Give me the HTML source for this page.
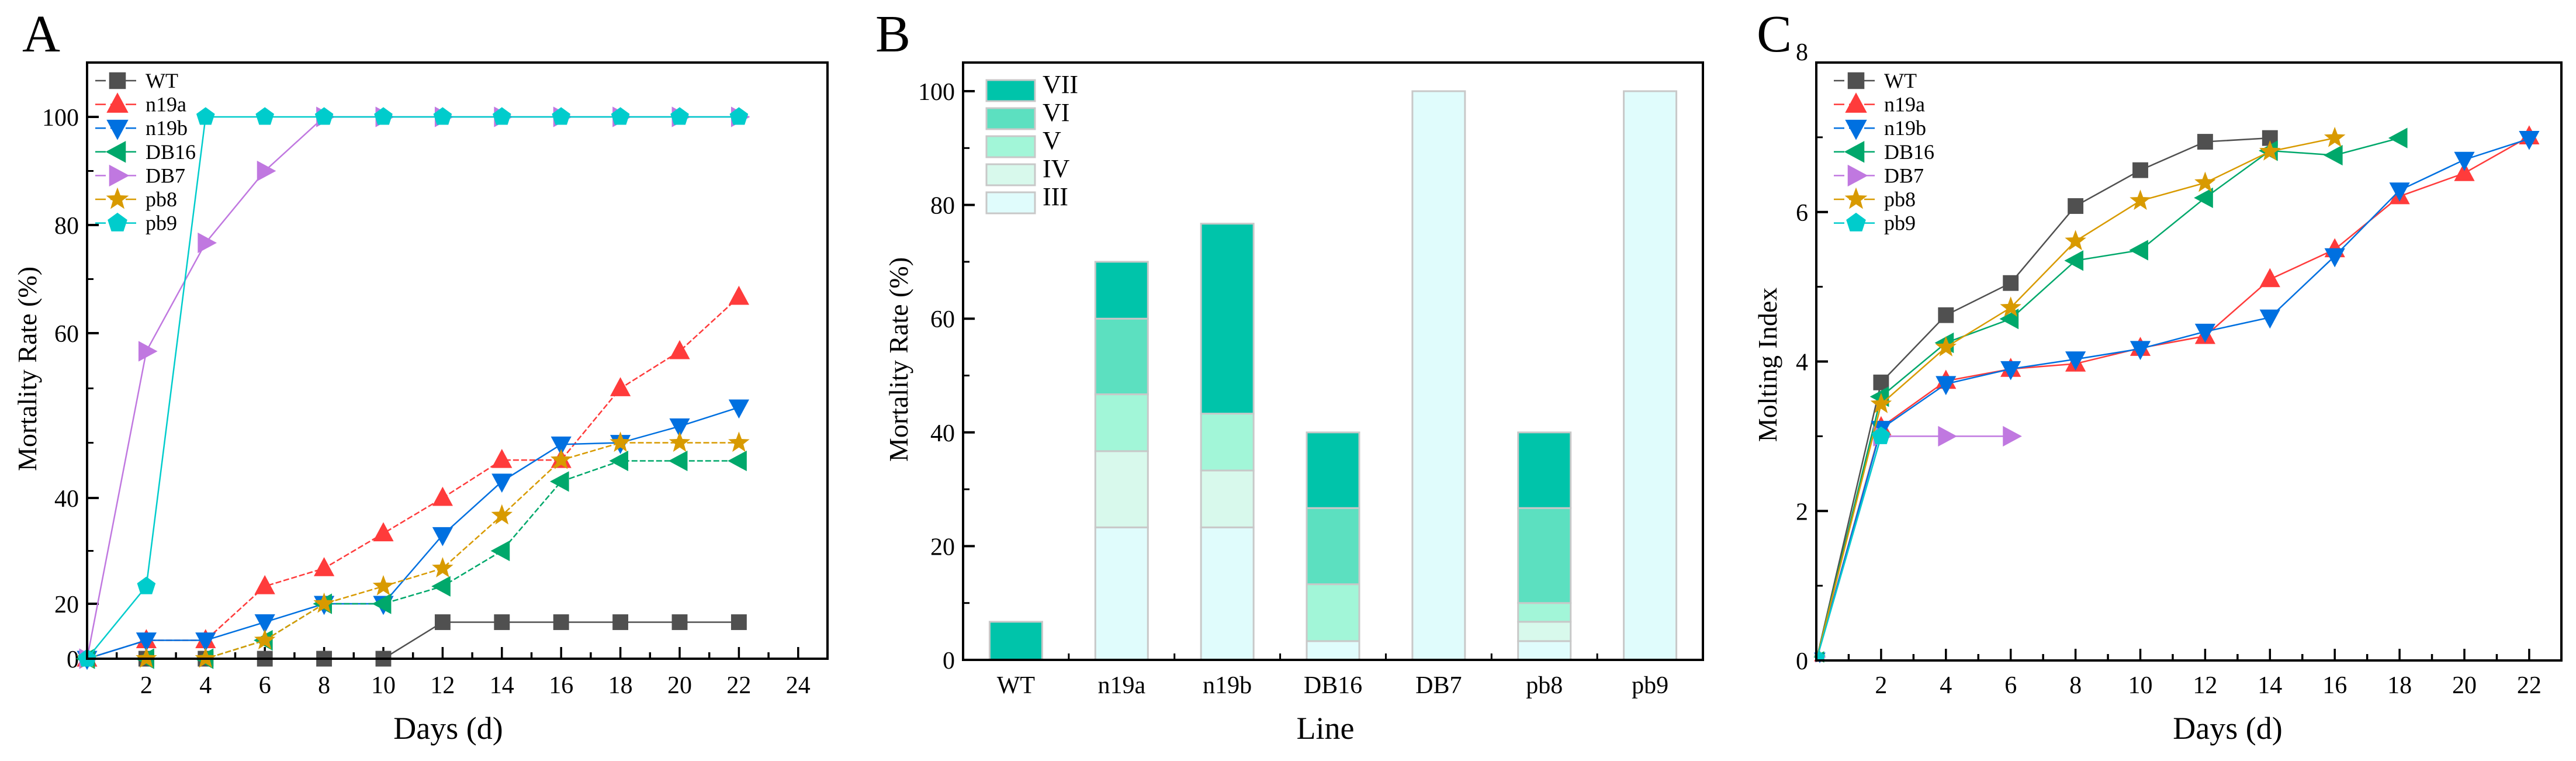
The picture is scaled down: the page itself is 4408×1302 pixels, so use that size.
<!DOCTYPE html>
<html><head><meta charset="utf-8"><style>
html,body{margin:0;padding:0;background:#fff;}
svg{display:block;font-family:"Liberation Serif",serif;}
</style></head><body>
<svg id="fig" xmlns="http://www.w3.org/2000/svg" width="4408" height="1302" viewBox="0 0 4408 1302">
<rect width="4408" height="1302" fill="#fff"/>
<text x="38" y="88" font-size="90">A</text>
<text x="1498" y="88" font-size="90">B</text>
<text x="3006" y="88" font-size="90">C</text>
<g id="pa"></g>
<g id="pb"></g>
<g id="pc"></g>
</svg>
<script>
// ---------- data ----------
const seriesNames = ["WT","n19a","n19b","DB16","DB7","pb8","pb9"];
const seriesColors = ["#505050","#ff3b3b","#0070e0","#00a86b","#c078e0","#d89a00","#00cccc"];
const daysA = [0,2,4,6,8,10,12,14,16,18,20,22];
const mortWT   = [0,0,0,0,0,0,13.3,13.3,13.3,13.3,13.3,13.3];
const mortN19a = [0,6.7,6.7,23.3,26.7,33.3,40,44.6,44.6,53.3,57.8,66.7];
const mortN19b = [0,6.7,6.7,13.3,20,20,33,42,46.5,46.7,48.7,51];
const mortDB16 = [0,0,0,6.7,20,20,23.3,30,42,44.5,44.5,44.5];
const mortDB7  = [0,57.8,76.7,90,100,100,100,100,100,100,100,100];
const mortPb8  = [0,0,0,6.7,20,23.3,26.7,36.7,44.6,46.7,46.7,46.7];
const mortPb9  = [0,23.3,100,100,100,100,100,100,100,100,100,100];
const yTicksA = [0,20,40,60,80,100];
const yMinorA = [30,46.7,53.3,70,90];
const xTicksA = [2,4,6,8,10,12,14,16,18,20,22,24];

const lines = ["WT","n19a","n19b","DB16","DB7","pb8","pb9"];
const stages = ["VII","VI","V","IV","III"];
const stageColors = {"VII":"#00c4aa","VI":"#5ce0c0","V":"#a2f6d8","IV":"#d8f9ec","III":"#e0fcfc"};
const stIII = [0,23.3,23.3,3.3,100,3.3,100];
const stIV  = [0,13.4,10,0,0,3.4,0];
const stV   = [0,10,10,10,0,3.3,0];
const stVI  = [0,13.3,0,13.4,0,16.7,0];
const stVII = [6.7,10,33.4,13.3,0,13.3,0];
const yTicksB = [0,20,40,60,80,100];

const daysC = [0,2,4,6,8,10,12,14,16,18,20,22];
const moltWT   = [0,3.72,4.62,5.05,6.08,6.56,6.94,6.99];
const moltN19a = [0,3.12,3.74,3.9,3.97,4.18,4.34,5.1,5.5,6.21,6.52,7.01];
const moltN19b = [0,3.1,3.7,3.9,4.03,4.17,4.4,4.59,5.41,6.29,6.7,6.98];
const moltDB16 = [0,3.53,4.25,4.57,5.35,5.49,6.19,6.82,6.76,6.99];
const moltDB7  = [0,3.0,3.0,3.0];
const moltPb8  = [0,3.43,4.19,4.72,5.61,6.15,6.39,6.81,6.99];
const moltPb9  = [0,3.0];
const yTicksC = [0,2,4,6,8];
const xTicksC = [2,4,6,8,10,12,14,16,18,20,22];

// ---------- helpers ----------
const NS="http://www.w3.org/2000/svg";
function mk(parent,tag,attrs,text){const e=document.createElementNS(NS,tag);for(const k in attrs)e.setAttribute(k,attrs[k]);if(text!==undefined)e.textContent=text;parent.appendChild(e);return e;}
function marker(g,shape,cx,cy,s,color){
  let e;
  if(shape===0){e=mk(g,"rect",{x:cx-s*0.42,y:cy-s*0.42,width:s*0.84,height:s*0.84,fill:color});}
  else if(shape===1){e=mk(g,"polygon",{points:`${cx},${cy-s*0.6} ${cx-s*0.55},${cy+s*0.42} ${cx+s*0.55},${cy+s*0.42}`,fill:color});}
  else if(shape===2){e=mk(g,"polygon",{points:`${cx},${cy+s*0.6} ${cx-s*0.55},${cy-s*0.42} ${cx+s*0.55},${cy-s*0.42}`,fill:color});}
  else if(shape===3){e=mk(g,"polygon",{points:`${cx-s*0.6},${cy} ${cx+s*0.42},${cy-s*0.55} ${cx+s*0.42},${cy+s*0.55}`,fill:color});}
  else if(shape===4){e=mk(g,"polygon",{points:`${cx+s*0.6},${cy} ${cx-s*0.42},${cy-s*0.55} ${cx-s*0.42},${cy+s*0.55}`,fill:color});}
  else if(shape===5){let p=[];for(let i=0;i<10;i++){const r=i%2?s*0.25:s*0.6;const a=-Math.PI/2+i*Math.PI/5;p.push((cx+r*Math.cos(a))+","+(cy+r*Math.sin(a)));}e=mk(g,"polygon",{points:p.join(" "),fill:color});}
  else {let p=[];for(let i=0;i<5;i++){const a=-Math.PI/2+i*2*Math.PI/5;p.push((cx+s*0.52*Math.cos(a))+","+(cy+s*0.52*Math.sin(a)));}e=mk(g,"polygon",{points:p.join(" "),fill:color});}
  return e;
}
function frame(g,L,T,R,B){mk(g,"rect",{x:L,y:T,width:R-L,height:B-T,fill:"none",stroke:"#000","stroke-width":4});}
function legendLines(g,x0,y0,step){
  seriesNames.forEach((n,i)=>{
    const y=y0+i*step;
    const le=mk(g,"g",{});
    
    
    mk(le,"line",{x1:x0,y1:y,x2:x0+76,y2:y,stroke:seriesColors[i],"stroke-width":2.5,"stroke-dasharray":"18 8"});
    marker(le,i,x0+38,y,34,seriesColors[i]);
    mk(le,"text",{x:x0+86,y:y+12,"font-size":36},n);
  });
}

// ---------- Panel A ----------
(function(){
  const g=document.getElementById("pa");
  const L=149,R=1416,T=107,B=1127;
  const knotsV=[0,20,40,60,80,100], knotsY=[1127,1033,852,570,385,200];
  function y(v){for(let i=0;i<knotsV.length-1;i++){if(v<=knotsV[i+1]||i===knotsV.length-2){return knotsY[i]+(v-knotsV[i])/(knotsV[i+1]-knotsV[i])*(knotsY[i+1]-knotsY[i]);}}}
  function x(d){return L+d*50.7;}
  yTicksA.forEach(v=>{mk(g,"line",{x1:L,y1:y(v),x2:L+20,y2:y(v),stroke:"#000","stroke-width":4});
    const t=mk(g,"text",{x:L-14,y:y(v)+15,"font-size":42,"text-anchor":"end"},String(v));
    });
  yMinorA.forEach(v=>mk(g,"line",{x1:L,y1:y(v),x2:L+11,y2:y(v),stroke:"#000","stroke-width":3}));
  for(let d=1;d<=24;d++){const maj=d%2===0;mk(g,"line",{x1:x(d),y1:B,x2:x(d),y2:B-(maj?20:11),stroke:"#000","stroke-width":3.5});}
  xTicksA.forEach(d=>{const t=mk(g,"text",{x:x(d),y:1186,"font-size":42,"text-anchor":"middle"},String(d));
    });
  const all=[mortWT,mortN19a,mortN19b,mortDB16,mortDB7,mortPb8,mortPb9];
  all.forEach((arr,i)=>{
    const sg=mk(g,"g",{});
    
    
    const pts=arr.map((v,k)=>x(daysA[k])+","+y(v)).join(" ");
    mk(sg,"polyline",{points:pts,fill:"none",stroke:seriesColors[i],"stroke-width":2.5,"stroke-dasharray":i%2?"10 4":"none"});
    arr.forEach((v,k)=>{const m=marker(sg,i,x(daysA[k]),y(v),32,seriesColors[i]);
      });
  });
  frame(g,L,T,R,B);
  legendLines(g,163,138,40.6);
  const yt=mk(g,"text",{x:0,y:0,"font-size":46,"text-anchor":"middle",transform:"translate(62,631) rotate(-90)"},"Mortality Rate (%)");
  
  const xt=mk(g,"text",{x:767,y:1264,"font-size":54,"text-anchor":"middle"},"Days (d)");
  
})();

// ---------- Panel B ----------
(function(){
  const g=document.getElementById("pb");
  const L=1648,R=2914,T=107,B=1129;
  const k=(B-156)/100;
  function y(v){return B-v*k;}
  const step=(R-L)/7;
  function xc(i){return L+step*(i+0.5);}
  yTicksB.forEach(v=>{mk(g,"line",{x1:L,y1:y(v),x2:L+20,y2:y(v),stroke:"#000","stroke-width":4});
    const t=mk(g,"text",{x:L-14,y:y(v)+15,"font-size":42,"text-anchor":"end"},String(v));
    });
  [10,30,50,70,90].forEach(v=>mk(g,"line",{x1:L,y1:y(v),x2:L+11,y2:y(v),stroke:"#000","stroke-width":3}));
  for(let i=1;i<7;i++){mk(g,"line",{x1:L+step*i,y1:B,x2:L+step*i,y2:B-11,stroke:"#000","stroke-width":3});}
  const stackOrder=[["III",stIII],["IV",stIV],["V",stV],["VI",stVI],["VII",stVII]];
  lines.forEach((n,i)=>{
    let base=0;
    stackOrder.forEach(([s,arr])=>{
      const v=arr[i]; if(v<=0)return;
      const r=mk(g,"rect",{x:xc(i)-45,y:y(base+v),width:90,height:v*k,fill:stageColors[s],stroke:"#c8c8c8","stroke-width":3});
      
      
      base+=v;
    });
    const t=mk(g,"text",{x:xc(i),y:1186,"font-size":42,"text-anchor":"middle"},n);
    
  });
  frame(g,L,T,R,B);
  stages.forEach((s,j)=>{
    const yy=137+j*48;
    const le=mk(g,"g",{});
    
    
    mk(le,"rect",{x:1688,y:yy,width:83,height:36,fill:stageColors[s],stroke:"#c8c8c8","stroke-width":3});
    mk(le,"text",{x:1784,y:yy+22,"font-size":44},s);
  });
  const yt=mk(g,"text",{x:0,y:0,"font-size":46,"text-anchor":"middle",transform:"translate(1553,615) rotate(-90)"},"Mortality Rate (%)");
  
  const xt=mk(g,"text",{x:2268,y:1264,"font-size":54,"text-anchor":"middle"},"Line");
  
})();

// ---------- Panel C ----------
(function(){
  const g=document.getElementById("pc");
  const L=3108,R=4383,T=107,B=1130;
  function y(v){return B-v*(B-T)/8;}
  function x(d){return L+d*55.45;}
  yTicksC.forEach(v=>{mk(g,"line",{x1:L,y1:y(v),x2:L+20,y2:y(v),stroke:"#000","stroke-width":4});
    const t=mk(g,"text",{x:L-14,y:y(v)+(v===8?-4:15),"font-size":42,"text-anchor":"end"},String(v));
    });
  [1,3,5,7].forEach(v=>mk(g,"line",{x1:L,y1:y(v),x2:L+11,y2:y(v),stroke:"#000","stroke-width":3}));
  for(let d=1;d<=22;d++){const maj=d%2===0;mk(g,"line",{x1:x(d),y1:B,x2:x(d),y2:B-(maj?20:11),stroke:"#000","stroke-width":3.5});}
  xTicksC.forEach(d=>{const t=mk(g,"text",{x:x(d),y:1186,"font-size":42,"text-anchor":"middle"},String(d));
    });
  const all=[moltWT,moltN19a,moltN19b,moltDB16,moltDB7,moltPb8,moltPb9];
  all.forEach((arr,i)=>{
    const sg=mk(g,"g",{});
    
    
    const pts=arr.map((v,k)=>x(daysC[k])+","+y(v)).join(" ");
    mk(sg,"polyline",{points:pts,fill:"none",stroke:seriesColors[i],"stroke-width":2.5});
    arr.forEach((v,k)=>{const s=k===0?18:32;const m=marker(sg,i,x(daysC[k])+(k===0?6:0),y(v)-(k===0?6:0),s,seriesColors[i]);
      });
  });
  frame(g,L,T,R,B);
  legendLines(g,3138,138,40.6);
  const yt=mk(g,"text",{x:0,y:0,"font-size":46,"text-anchor":"middle",transform:"translate(3040,624) rotate(-90)"},"Molting Index");
  
  const xt=mk(g,"text",{x:3812,y:1264,"font-size":54,"text-anchor":"middle"},"Days (d)");
  
})();
</script>
</body></html>
